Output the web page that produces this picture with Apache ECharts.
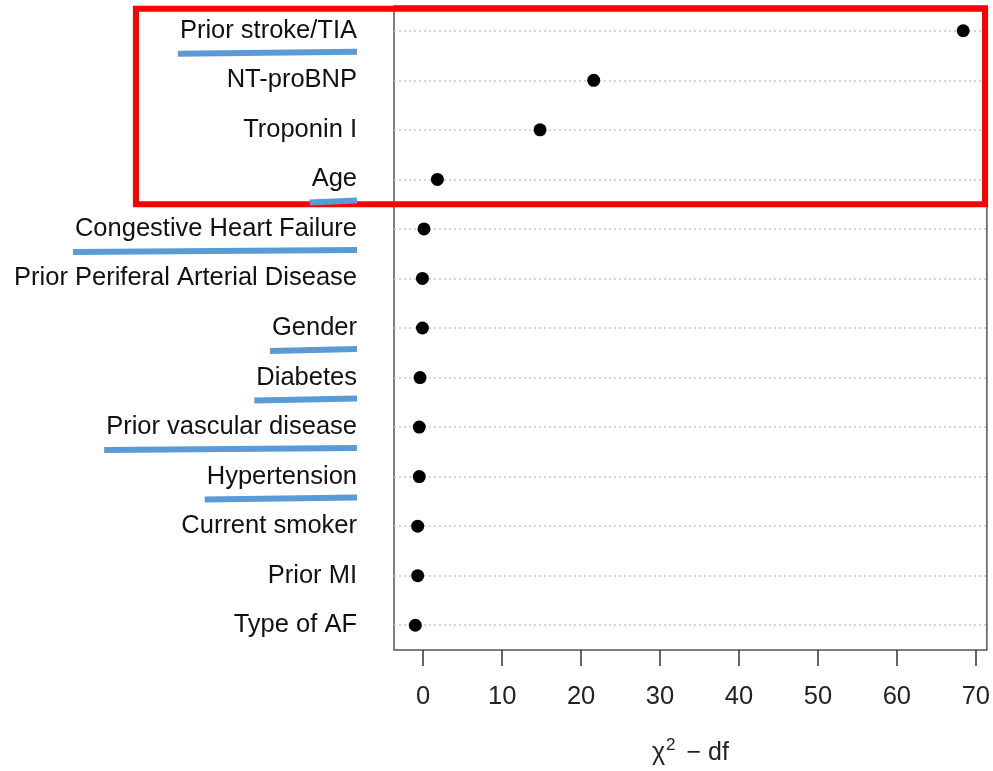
<!DOCTYPE html>
<html>
<head>
<meta charset="utf-8">
<script src="https://cdn.jsdelivr.net/npm/echarts@6/dist/echarts.min.js"></script>
<style>html,body{margin:0;padding:0;background:#fff}#c{width:993px;height:771px}</style>
</head>
<body>
<div id="c"></div>
<script>
const categories = ['Prior stroke/TIA','NT-proBNP','Troponin I','Age','Congestive Heart Failure','Prior Periferal Arterial Disease','Gender','Diabetes','Prior vascular disease','Hypertension','Current smoker','Prior MI','Type of AF'];
const values = [68.4, 21.6, 14.8, 1.8, 0.1, -0.1, -0.1, -0.4, -0.5, -0.5, -0.7, -0.7, -1.0];
const xTicks = [0, 10, 20, 30, 40, 50, 60, 70];
const underlined = ['Prior stroke/TIA','Age','Congestive Heart Failure','Gender','Diabetes','Prior vascular disease','Hypertension'];
const highlighted = ['Prior stroke/TIA','NT-proBNP','Troponin I','Age'];

const FONT = '"Liberation Sans", Arial, sans-serif';
const chart = echarts.init(document.getElementById('c'), null, {renderer: 'canvas'});
const GRID = {left: 394, right: 6, top: 6, bottom: 117};
const LABEL_MARGIN = 37;
const LABEL_SIZE = 25.5;

chart.setOption({
  animation: false,
  backgroundColor: '#fff',
  grid: {left: GRID.left, right: GRID.right, top: GRID.top, bottom: GRID.bottom, show: true, borderColor: '#555', borderWidth: 1.5, backgroundColor: 'transparent'},
  xAxis: {
    type: 'value', min: -3.7, max: 71.4,
    axisLine: {show: false},
    splitLine: {show: false},
    axisTick: {show: true, inside: false, length: 16, lineStyle: {color: '#333', width: 1.5}, customValues: xTicks},
    axisLabel: {margin: 34, fontSize: 25.5, color: '#222', fontFamily: FONT, customValues: xTicks},
    name: '{a|χ}{s|2}{a| − df}',
    nameLocation: 'middle', nameGap: 87,
    nameTextStyle: {
      rich: {
        a: {fontSize: 25, color: '#222', fontFamily: FONT},
        s: {fontSize: 17, color: '#222', fontFamily: FONT, padding: [0, 4, 16, 1]}
      }
    }
  },
  yAxis: {
    type: 'category', data: categories, inverse: true,
    axisLine: {show: false}, axisTick: {show: false}, splitLine: {show: false},
    axisLabel: {margin: LABEL_MARGIN, fontSize: LABEL_SIZE, color: '#111', fontFamily: FONT}
  },
  series: [
    {
      type: 'scatter', data: [], z: 1, silent: true,
      markLine: {
        silent: true, symbol: ['none', 'none'], label: {show: false},
        lineStyle: {type: [2, 3], color: '#c8c8c8', width: 1.5},
        data: categories.map(c => ({yAxis: c}))
      }
    },
    {
      type: 'scatter', z: 5,
      symbol: 'circle', symbolSize: 13,
      itemStyle: {color: '#000', opacity: 1},
      data: values.map((v, i) => [v, categories[i]])
    }
  ]
});

// annotations: red highlight box and blue underlines
const ctx = document.createElement('canvas').getContext('2d');
ctx.font = LABEL_SIZE + 'px ' + FONT;
const band = chart.getHeight() - GRID.top - GRID.bottom;
const step = band / categories.length;
const labelRight = GRID.left - LABEL_MARGIN;
const elements = [];

const firstY = chart.convertToPixel({yAxisIndex: 0}, highlighted[0]);
const lastY = chart.convertToPixel({yAxisIndex: 0}, highlighted[highlighted.length - 1]);
elements.push({
  type: 'rect', z: 100,
  shape: {x: 136, y: firstY - step / 2 + 3, width: chart.getWidth() - GRID.right - 136 - 2, height: (lastY - firstY) + step - 3},
  style: {fill: 'none', stroke: '#ff0000', lineWidth: 6}
});

underlined.forEach(name => {
  const y = chart.convertToPixel({yAxisIndex: 0}, name) + 21;
  const w = ctx.measureText(name).width;
  elements.push({
    type: 'line', z: 100,
    shape: {x1: labelRight - w - 2, y1: y + 2, x2: labelRight, y2: y},
    style: {stroke: '#5b9bd5', lineWidth: 6}
  });
});

chart.setOption({graphic: elements});
</script>
</body>
</html>
